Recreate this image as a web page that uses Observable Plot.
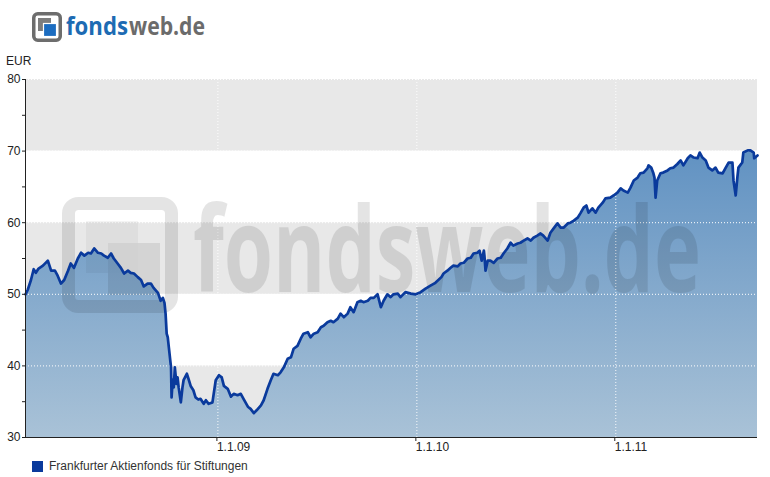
<!DOCTYPE html>
<html><head><meta charset="utf-8">
<script src="https://cdn.jsdelivr.net/npm/d3@7"></script>
<script src="https://cdn.jsdelivr.net/npm/@observablehq/plot@0.6"></script>
<style>
body{margin:0;background:#fff;font-family:"Liberation Sans",Arial,sans-serif;}
#wrap{position:relative;width:770px;height:477px;overflow:hidden;}
#chart{position:absolute;left:0;top:0;}
#logo{position:absolute;left:0;top:0;}
#unit{position:absolute;left:6px;top:55px;font-size:12px;line-height:12px;color:#222;}
#legend{position:absolute;left:32px;top:459px;height:14px;font-size:12px;line-height:14px;color:#333;display:flex;align-items:center;}
#legend .sw{width:11px;height:11px;background:#0a3a9c;margin-right:6px;}
</style></head><body>
<div id="wrap">
<div id="chart"></div>
<svg id="logo" width="230" height="50">
  <rect x="33.75" y="13.75" width="26.5" height="26.5" rx="4" fill="none" stroke="#6d6d6d" stroke-width="3.5"/>
  <rect x="38" y="18" width="13" height="13" fill="#7d7d7d"/>
  <rect x="43.5" y="23.5" width="13" height="13" fill="#1b6cc0" stroke="#fff" stroke-width="1.2"/>
  <text x="66" y="35" text-anchor="start" font-family="Open Sans, sans-serif" font-weight="700" font-size="25" textLength="62" lengthAdjust="spacingAndGlyphs" fill="#1d6bb3">fonds</text>
  <text x="129" y="35" text-anchor="start" font-family="Open Sans, sans-serif" font-weight="700" font-size="25" textLength="76" lengthAdjust="spacingAndGlyphs" fill="#6b6b6b">web.de</text>
</svg>
<div id="unit"></div>
<div id="legend"><span class="sw"></span><span id="legendText"></span></div>
</div>
<script>
const unitLabel = "EUR";
const seriesName = "Frankfurter Aktienfonds für Stiftungen";
const yTicks = [30, 40, 50, 60, 70, 80];
const yMinorTicks = [35, 45, 55, 65, 75];
const xTickDates = ["2009-01-01", "2010-01-01", "2011-01-01"];
const xTickLabels = ["1.1.09", "1.1.10", "1.1.11"];

const dates = [
"2008-01-14","2008-01-18","2008-01-24","2008-01-29","2008-02-02","2008-02-07","2008-02-15","2008-02-24","2008-03-01","2008-03-08",
"2008-03-13","2008-03-19","2008-03-25","2008-04-01","2008-04-06","2008-04-12","2008-04-19","2008-04-25","2008-05-01","2008-05-08",
"2008-05-13","2008-05-19","2008-05-26","2008-06-01","2008-06-06","2008-06-13","2008-06-19","2008-06-24","2008-07-01","2008-07-07",
"2008-07-13","2008-07-20","2008-07-25","2008-07-31","2008-08-07","2008-08-13","2008-08-18","2008-08-25","2008-08-31","2008-09-05",
"2008-09-13","2008-09-18","2008-09-22","2008-09-25","2008-09-27","2008-09-29","2008-10-01","2008-10-03","2008-10-07","2008-10-08",
"2008-10-10","2008-10-12","2008-10-14","2008-10-17","2008-10-19","2008-10-21","2008-10-25","2008-10-28","2008-10-30","2008-11-05",
"2008-11-08","2008-11-12","2008-11-17","2008-11-21","2008-11-26","2008-11-30","2008-12-06","2008-12-10","2008-12-15","2008-12-22",
"2008-12-28",
"2009-01-03","2009-01-08","2009-01-12","2009-01-19","2009-01-25","2009-01-30","2009-02-06","2009-02-12","2009-02-17","2009-02-25",
"2009-03-02","2009-03-08","2009-03-13","2009-03-21","2009-03-26","2009-04-02","2009-04-08","2009-04-13","2009-04-21","2009-04-26",
"2009-05-02","2009-05-09","2009-05-15","2009-05-20","2009-05-27","2009-06-02","2009-06-07","2009-06-15","2009-06-20","2009-06-26",
"2009-07-03","2009-07-09","2009-07-14","2009-07-21","2009-07-27","2009-08-01","2009-08-09","2009-08-14","2009-08-20","2009-08-27",
"2009-09-01","2009-09-07","2009-09-14","2009-09-20","2009-09-25","2009-10-03","2009-10-08","2009-10-14","2009-10-21","2009-10-27",
"2009-11-01","2009-11-08","2009-11-14","2009-11-19","2009-11-27","2009-12-02","2009-12-11","2009-12-21","2009-12-30",
"2010-01-08","2010-01-17","2010-01-26","2010-02-04","2010-02-15","2010-02-19","2010-02-26","2010-03-04","2010-03-09","2010-03-17",
"2010-03-22","2010-03-28","2010-04-04","2010-04-10","2010-04-15","2010-04-22","2010-04-26","2010-04-30","2010-05-04","2010-05-05",
"2010-05-07","2010-05-11","2010-05-16","2010-05-22","2010-05-29","2010-06-04","2010-06-09","2010-06-16","2010-06-22","2010-06-27",
"2010-07-05","2010-07-10","2010-07-16","2010-07-23","2010-07-29","2010-08-03","2010-08-10","2010-08-16","2010-08-21","2010-08-29",
"2010-09-03","2010-09-09","2010-09-16","2010-09-22","2010-09-27","2010-10-05","2010-10-10","2010-10-16","2010-10-23","2010-10-28",
"2010-11-03","2010-11-08","2010-11-12","2010-11-19","2010-11-25","2010-11-30","2010-12-08","2010-12-13","2010-12-22","2010-12-28",
"2011-01-04","2011-01-10","2011-01-15","2011-01-23","2011-01-28","2011-02-03","2011-02-10","2011-02-15","2011-02-21","2011-02-28",
"2011-03-02","2011-03-07","2011-03-11","2011-03-13","2011-03-15","2011-03-18","2011-03-24","2011-03-29","2011-04-06","2011-04-11",
"2011-04-17","2011-04-24","2011-04-30","2011-05-05","2011-05-13","2011-05-18","2011-05-24","2011-05-31","2011-06-04","2011-06-09",
"2011-06-15","2011-06-20","2011-06-27","2011-07-03","2011-07-08","2011-07-16","2011-07-21","2011-07-27","2011-08-03","2011-08-05",
"2011-08-09","2011-08-12","2011-08-14","2011-08-21","2011-08-23","2011-08-31","2011-09-05","2011-09-11","2011-09-12","2011-09-18"
];
const values = [
50.0,50.6,52.0,53.5,53.0,53.6,54.0,54.7,53.3,53.3,
52.6,51.5,52.0,53.3,54.3,53.7,55.0,55.8,55.4,55.8,
55.7,56.4,55.8,55.7,55.4,55.1,55.7,55.0,54.3,53.7,
52.9,53.3,53.0,52.9,52.4,52.0,51.1,51.5,51.5,50.9,
50.2,49.1,49.5,48.8,47.3,44.5,44.0,42.6,39.8,35.6,
38.0,37.0,39.8,37.5,38.4,37.0,34.9,37.0,38.0,38.9,
38.2,37.2,36.6,35.6,35.3,35.4,34.7,35.2,34.7,34.9,
38.0,
38.7,38.4,37.2,36.8,35.7,36.1,35.9,36.1,35.4,34.3,
34.0,33.4,33.8,34.5,35.2,36.8,38.0,38.9,38.7,39.1,
39.8,41.0,41.2,42.4,42.8,43.8,44.5,44.7,44.0,44.5,
44.7,45.4,45.6,46.1,46.3,46.1,46.6,47.3,46.8,47.3,
48.2,47.5,48.9,49.1,48.9,49.1,49.5,49.5,50.0,48.2,
49.1,50.0,49.6,50.0,50.1,49.6,50.3,50.1,50.0,
50.3,50.8,51.2,51.6,52.4,52.9,53.3,53.7,54.0,53.9,
54.3,54.4,55.0,55.1,55.7,55.8,56.1,54.7,56.1,55.4,
53.3,54.7,54.7,54.4,55.0,55.1,55.7,56.4,57.2,56.8,
57.1,57.2,57.5,57.8,57.5,57.9,58.2,58.5,58.2,57.5,
58.6,59.2,59.9,59.3,59.3,59.9,60.0,60.3,60.7,61.3,
62.1,62.4,61.4,62.0,61.4,62.1,62.8,63.4,63.5,63.8,
64.2,64.8,64.5,64.2,64.9,65.9,66.3,66.9,67.0,67.6,
68.0,67.7,66.9,66.3,63.5,65.9,66.9,67.0,67.3,67.6,
67.7,68.2,68.7,68.0,69.0,69.4,69.1,69.0,69.8,69.1,
68.7,67.7,67.3,67.7,67.0,66.9,67.6,68.4,68.4,65.9,
63.8,66.3,67.7,68.4,69.8,70.1,70.1,69.8,69.0,69.4
];

document.getElementById("unit").textContent = unitLabel;
document.getElementById("legendText").textContent = seriesName;

const series = dates.map((d, i) => ({date: new Date(d + "T00:00:00Z"), value: values[i]}));
const xMin = series[0].date, xMax = series[series.length - 1].date;
const yMin = yTicks[0], yMax = yTicks[yTicks.length - 1];
const bands = [];
for (let i = 0; i < yTicks.length - 1; i += 2) bands.push({lo: yTicks[i], hi: yTicks[i + 1]});
const xTicks = xTickDates.map(d => new Date(d + "T00:00:00Z"));
const labelByTime = new Map(xTicks.map((d, i) => [+d, xTickLabels[i]]));

const svg = Plot.plot({
  width: 770, height: 477,
  marginLeft: 25, marginRight: 13, marginTop: 79, marginBottom: 40,
  style: {fontFamily: "Liberation Sans, Arial, sans-serif", fontSize: "12px", color: "#222", background: "white", overflow: "visible"},
  x: {type: "utc", domain: [xMin, xMax], label: null},
  y: {domain: [yMin, yMax], label: null},
  marks: [
    Plot.rect(bands, {x1: () => xMin, x2: () => xMax, y1: "lo", y2: "hi", fill: "#e8e8e8"}),
    Plot.areaY(series, {x: "date", y1: () => yMin, y2: "value", fill: "url(#areaGrad)"}),
    Plot.gridY(yTicks.slice(1), {stroke: "white", strokeOpacity: 1, strokeDasharray: "1,2"}),
    Plot.gridX(xTicks, {stroke: "white", strokeOpacity: 0.9, strokeDasharray: "1,2"}),
    Plot.lineY(series, {x: "date", y: "value", stroke: "#0a3a9c", strokeWidth: 2.7, strokeLinejoin: "round"}),
    Plot.ruleX([xMin], {stroke: "#222"}),
    Plot.ruleY([yMin], {stroke: "#222"}),
    Plot.axisY(yTicks, {tickSize: 3, tickPadding: 2, stroke: "#222", fill: "#222"}),
    Plot.axisY(yMinorTicks, {tickSize: 3, stroke: "#222", tickFormat: () => ""}),
    Plot.axisX(xTicks, {tickSize: 4, tickPadding: 1, stroke: "#222", fill: "#222", textAnchor: "start", dx: -1, tickFormat: d => labelByTime.get(+d)})
  ]
});
document.getElementById("chart").appendChild(svg);

const s = d3.select(svg);
const defs = s.insert("defs", ":first-child");
const grad = defs.append("linearGradient").attr("id", "areaGrad")
  .attr("gradientUnits", "userSpaceOnUse").attr("x1", 0).attr("x2", 0).attr("y1", 79).attr("y2", 437);
grad.append("stop").attr("offset", 0).attr("stop-color", "#4f86bd");
grad.append("stop").attr("offset", 1).attr("stop-color", "#a9c2d7");

// watermark
const lineG = svg.querySelector('[aria-label="line"]');
const wm = s.insert("g", () => lineG).attr("opacity", 0.1).attr("pointer-events", "none");
wm.append("rect").attr("x", 68.5).attr("y", 203.5).attr("width", 103).attr("height", 103).attr("rx", 10)
  .attr("fill", "none").attr("stroke", "#000").attr("stroke-width", 13);
wm.append("rect").attr("x", 86).attr("y", 221).attr("width", 52).attr("height", 52).attr("fill", "#000").attr("opacity", 0.4);
wm.append("rect").attr("x", 108).attr("y", 243).attr("width", 52).attr("height", 52).attr("fill", "#000").attr("opacity", 0.8);
wm.append("text").attr("x", 193).attr("y", 292).attr("text-anchor", "start").attr("font-family", "Open Sans, sans-serif")
  .attr("font-weight", 700).attr("font-size", 118).attr("textLength", 508).attr("lengthAdjust", "spacingAndGlyphs")
  .attr("fill", "#000").text("fondsweb.de");
</script>
</body></html>
